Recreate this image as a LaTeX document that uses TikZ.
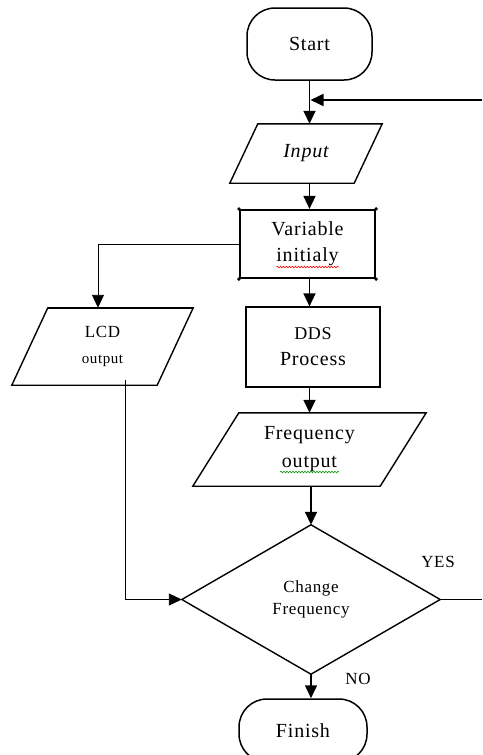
\documentclass[tikz,border=0pt]{standalone}
\usepackage{fontspec}
\setmainfont{Liberation Serif}[LetterSpace=4]
\usetikzlibrary{arrows.meta,calc,decorations.pathmorphing}
\begin{document}
\begin{tikzpicture}[x=1pt,y=-1pt,
  main/.style={font=\fontsize{20}{26}\selectfont},
  term/.style={draw, line width=1.5pt, rounded corners=28pt, inner sep=0pt, main},
  ph/.style={inner sep=0pt, align=center, main},
  boxed/.style={draw, inner sep=0pt, align=center, main},
  outline/.style={line width=1.4pt, line join=miter},
  arr/.style={line width=1.6pt, -{Triangle[length=13pt,width=12pt]}},
  thinarr/.style={line width=0.9pt, -{Triangle[length=13pt,width=12pt]}},
  thinline/.style={line width=0.9pt},
  lbl/.style={font=\fontsize{17}{20}\selectfont, inner sep=0pt},
  wavy/.style={line width=0.6pt, decorate, decoration={snake, amplitude=0.8pt, segment length=3pt}}
]
\useasboundingbox (0,0) rectangle (482,755);

% Start
\node[term, minimum width=125pt, minimum height=72pt] (start) at (309.5,44) {Start};

% Input
\node[ph, minimum width=152pt, minimum height=59pt] (input) at (306,153.5) {\itshape Input};
\draw[outline] ($(input.north west)+(28,0)$) -- (input.north east) -- ($(input.south east)+(-28,0)$) -- (input.south west) -- cycle;

% Variable initialy
\node[boxed, line width=2.2pt, minimum width=135pt, minimum height=68pt] (var) at (307.5,244) {Variable\\initialy};
\foreach \a in {north west, north east, south west, south east} \fill (var.\a) circle (1.8pt);
\draw[wavy, red] ($(var.center)+(-31,23)$) -- ($(var.center)+(31,23)$);

% LCD output
\node[ph, minimum width=181pt, minimum height=77pt, font=\fontsize{17}{26}\selectfont] (lcd) at (102.5,346.5) {LCD\\{\fontsize{15}{26}\selectfont output}};
\draw[outline] ($(lcd.north west)+(36,0)$) -- (lcd.north east) -- ($(lcd.south east)+(-36,0)$) -- (lcd.south west) -- cycle;
\draw[line width=2.2pt] ($(lcd.north west)+(36,0)$) -- (lcd.north east);

% DDS Process
\node[boxed, line width=1.2pt, minimum width=134pt, minimum height=80pt] (dds) at (313,347) {{\fontsize{18}{26}\selectfont DDS}\\Process};

% Frequency output
\node[ph, minimum width=233pt, minimum height=73pt, font=\fontsize{20}{28}\selectfont] (freq) at (309.5,449.5) {Frequency\\output};
\draw[outline] ($(freq.north west)+(46,0)$) -- (freq.north east) -- ($(freq.south east)+(-46,0)$) -- (freq.south west) -- cycle;
\draw[wavy, green!60!black] ($(freq.center)+(-29.5,22.5)$) -- ($(freq.center)+(29.5,22.5)$);

% Change Frequency
\node[ph, minimum width=258pt, minimum height=149pt, font=\fontsize{17}{22}\selectfont] (ch) at (311,599.5) {Change\\Frequency};
\draw[outline] (ch.north) -- (ch.east) -- (ch.south) -- (ch.west) -- cycle;

% Finish
\node[term, minimum width=128pt, minimum height=63pt] (fin) at (303,730.5) {Finish};

% labels
\node[lbl] (yes) at (438,562) {YES};
\node[lbl] (no) at (358,679) {NO};

% connectors
\coordinate (rin) at (482,100);
\coordinate (rout) at (482,599.5);
\draw[arr] (start.south) -- (start.south |- input.north);
\draw[arr, shorten >=1pt] (rin) -- (start.south |- rin);
\draw[arr] (input.south -| start.south) -- (start.south |- var.north);
\draw[arr] (var.south -| start.south) -- (start.south |- dds.north);
\draw[arr] (dds.south -| start.south) -- (start.south |- freq.north);
\draw[arr] (freq.south -| ch.north) -- (ch.north);
\draw[arr] (ch.south) -- (ch.south |- fin.north);
\draw[thinarr] (var.west) -| ($(lcd.north)+(-4.5,0)$);
\draw[thinarr] ($(lcd.south)+(22.5,-5)$) |- (ch.west);
\draw[thinline] (ch.east) -- (rout);
\end{tikzpicture}
\end{document}
